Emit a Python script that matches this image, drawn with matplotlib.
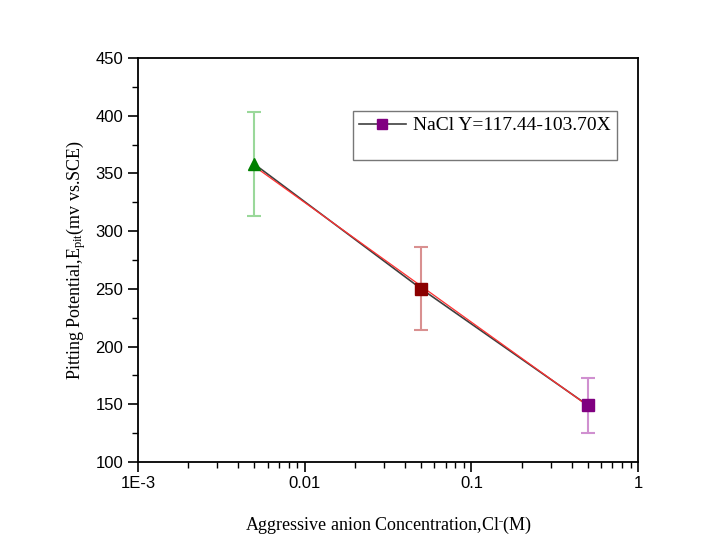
import numpy as np
import matplotlib
matplotlib.use('Agg')
import matplotlib.pyplot as plt
from matplotlib.lines import Line2D
from matplotlib.ticker import FixedLocator, MultipleLocator, LogLocator, NullFormatter

plt.rcParams['mathtext.fontset'] = 'custom'
plt.rcParams['mathtext.rm'] = 'Liberation Serif'
plt.rcParams['mathtext.it'] = 'Liberation Serif:italic'

# Datos
conc = [0.005, 0.05, 0.5]          # concentracion Cl- (M)
epit = [358, 250, 149]             # potencial de picado (mV vs SCE)
err = [45, 36, 24]                 # barras de error
markers = ['^', 's', 's']
colores = ['#008000', '#8b0000', '#800080']
colores_err = ['#9ad89a', '#d99090', '#d090d0']

# Ajuste lineal indicado en la leyenda
a_fit = 117.44
b_fit = 103.70

fig = plt.figure(figsize=(7.22, 5.5), dpi=100)
ax = fig.add_axes([0.191, 0.16, 0.693, 0.7345])

# linea que une los puntos
ax.plot(conc, epit, color='#404040', lw=1.2, zorder=2)

# recta de ajuste
xf = np.array([conc[0], conc[-1]])
ax.plot(xf, a_fit - b_fit * np.log10(xf), color='#ff3030', lw=0.9, zorder=3)

for i in range(len(conc)):
    ax.errorbar(conc[i], epit[i], yerr=err[i], fmt='none', ecolor=colores_err[i],
                elinewidth=1.5, capsize=5, capthick=1.5, zorder=1)
    ax.plot(conc[i], epit[i], marker=markers[i], color=colores[i], ms=8,
            linestyle='none', zorder=4)

ax.set_xscale('log')
ax.set_xlim(1e-3, 1)
ax.set_ylim(100, 450)

ax.xaxis.set_major_locator(FixedLocator([1e-3, 1e-2, 1e-1, 1]))
ax.set_xticklabels(['1E-3', '0.01', '0.1', '1'])
ax.xaxis.set_minor_locator(LogLocator(base=10, subs=np.arange(2, 10)))
ax.xaxis.set_minor_formatter(NullFormatter())
ax.yaxis.set_major_locator(MultipleLocator(50))
ax.yaxis.set_minor_locator(MultipleLocator(25))

ax.tick_params(which='major', direction='out', length=7, width=1.2,
               labelsize=12, top=False, right=False)
ax.tick_params(which='minor', direction='out', length=4, width=1.0,
               top=False, right=False)
ax.tick_params(axis='x', pad=3)
for lab in ax.get_xticklabels() + ax.get_yticklabels():
    lab.set_fontfamily('Liberation Sans')
for s in ax.spines.values():
    s.set_linewidth(1.3)

ax.set_xlabel('Aggressive anion Concentration,Cl$^{\\bar{\\ }}$(M)', family='Liberation Serif',
              fontsize=13, labelpad=17)
ax.set_ylabel('Pitting Potential,E$_{\\mathrm{pit}}$(mv vs.SCE)', family='Liberation Serif',
              fontsize=13, labelpad=5)

h1 = Line2D([], [], color='#404040', lw=1.2, marker='s', mfc='#800080', mec='#800080', ms=7)
h2 = Line2D([], [], color='none')
leg = ax.legend([h1, h2], ['NaCl Y=117.44-103.70X', ' '], loc='upper left',
                bbox_to_anchor=(0.43, 0.869), borderaxespad=0, frameon=True, fancybox=False,
                edgecolor='#555555', prop={'family': 'Liberation Serif', 'size': 14},
                handlelength=2.4, handletextpad=0.4, borderpad=0.3, labelspacing=0.1)
leg.get_frame().set_linewidth(1.0)

fig.savefig('out.png', dpi=100)
